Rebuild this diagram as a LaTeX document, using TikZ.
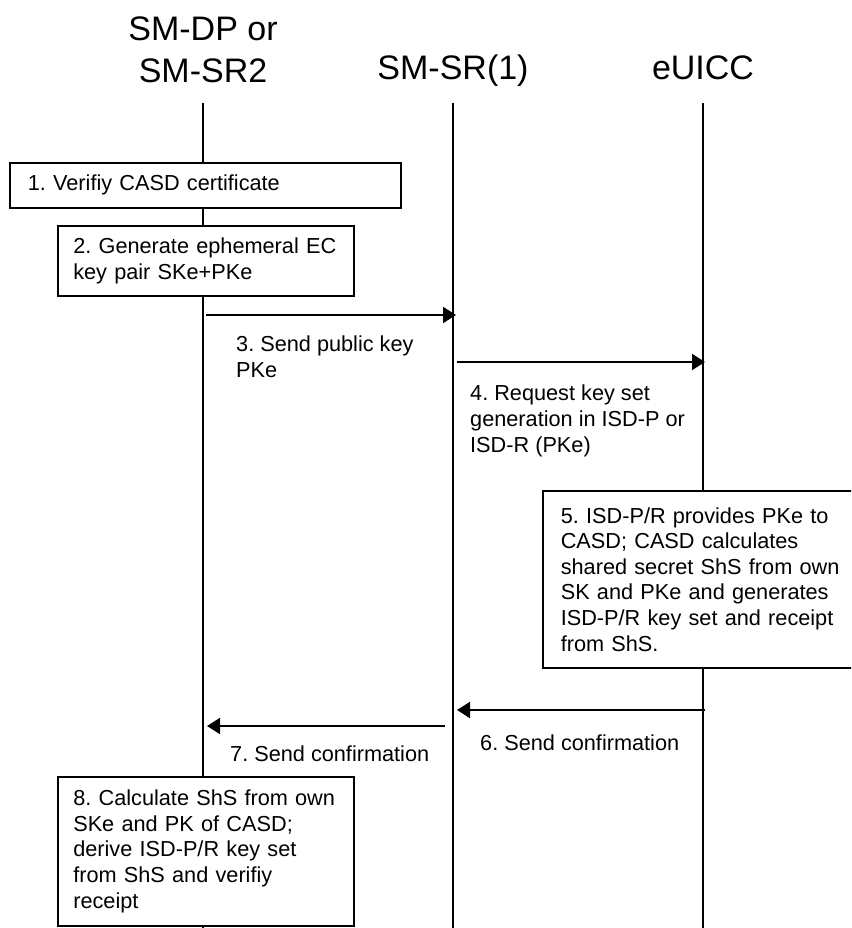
\documentclass[tikz,border=0pt]{standalone}
\usepackage{fontspec}
\setmainfont{Liberation Sans}
\usetikzlibrary{positioning,arrows.meta}
\frenchspacing

\begin{document}
\begin{tikzpicture}[x=1pt,y=-1pt,>={Triangle[length=13pt,width=16pt]},
  actor/.style={font=\fontsize{34}{42}\selectfont,inner sep=0pt,align=center},
  life/.style={line width=1.5pt},
  stepbox/.style={draw,line width=1.6pt,fill=white,anchor=north west,align=left,inner ysep=0pt,font=\fontsize{21.7}{25.6}\selectfont},
  msg/.style={->,line width=2pt},
  lbl/.style={anchor=base west,inner sep=0pt,align=left,font=\fontsize{21.7}{25.6}\selectfont}]
\useasboundingbox (0,0) rectangle (851,928);
\clip (0,0) rectangle (851,928);
% participants and lifelines
\node[actor,anchor=north] (dp) at (203,16.5) {SM-DP or\\SM-SR2};
\node[actor,anchor=base] (sr) at (453,80) {SM-SR(1)};
\node[actor,anchor=base] (eu) at (703,80) {eUICC};
\foreach \n/\x in {dp/203,sr/453,eu/703}
  \draw[life] (\x,103) coordinate (\n top) -- (\x,928) coordinate (\n bot);
% steps
\node[stepbox,text width=355pt,inner xsep=18pt,minimum height=45pt] (s1) at (9,162) {1. Verifiy CASD certificate};
\node[stepbox,text width=265pt,inner xsep=15.5pt,minimum height=70pt] (s2) at (57,225) {2. Generate ephemeral EC\\key pair SKe+PKe};
\node[stepbox,text width=300pt,inner xsep=18pt,minimum height=177pt] (s5) at (542,490) {5. ISD-P/R provides PKe to\\CASD; CASD calculates\\shared secret ShS from own\\SK and PKe and generates\\ISD-P/R key set and receipt\\from ShS.};
\node[stepbox,text width=265pt,inner xsep=15.5pt,minimum height=149pt] (s8) at (57,776) {8. Calculate ShS from own\\SKe and PK of CASD;\\derive ISD-P/R key set\\from ShS and verifiy\\receipt};
% messages
\coordinate (m3a) at (206,315); \coordinate (m3b) at (456,315);
\coordinate (m4a) at (457,362); \coordinate (m4b) at (705,362);
\coordinate (m6a) at (705,710); \coordinate (m6b) at (457,710);
\coordinate (m7a) at (445,726); \coordinate (m7b) at (207,726);
\draw[msg] (m3a) -- (m3b);
\draw[msg] (m4a) -- (m4b);
\draw[msg] (m6a) -- (m6b);
\draw[msg] (m7a) -- (m7b);
\node[lbl] (l3) at (236,377) {3. Send public key\\PKe};
\node[lbl] (l4) at (470,452) {4. Request key set\\generation in ISD-P or\\ISD-R (PKe)};
\node[lbl] (l6) at (480,750) {6. Send confirmation};
\node[lbl] (l7) at (230,761) {7. Send confirmation};
\end{tikzpicture}
\end{document}
